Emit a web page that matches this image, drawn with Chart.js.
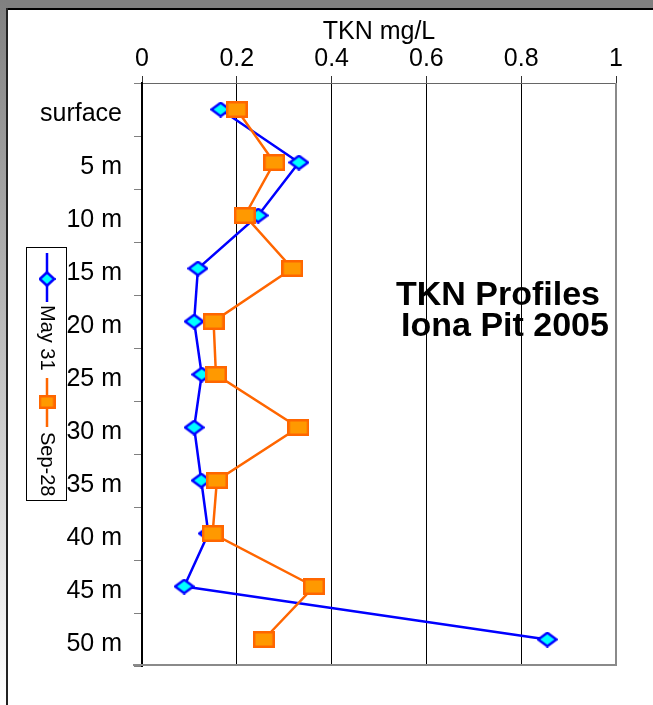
<!DOCTYPE html>
<html><head><meta charset="utf-8">
<script src="https://cdn.jsdelivr.net/npm/chart.js@4/dist/chart.umd.min.js"></script>
<style>
html,body{margin:0;padding:0;background:#fff;}
body{width:653px;height:705px;overflow:hidden;position:relative;}
#ft{position:absolute;left:0;top:0;width:653px;height:8px;background:#808080;}
#fl{position:absolute;left:0;top:0;width:6px;height:705px;background:linear-gradient(#808080,#ffffff);}
#ftl{position:absolute;left:6px;top:8px;width:647px;height:2px;background:#000;}
#fll{position:absolute;left:6px;top:8px;width:2px;height:697px;background:#222;}
canvas{position:absolute;left:0;top:0;}
</style></head>
<body>
<div id="ft"></div><div id="fl"></div><div id="ftl"></div><div id="fll"></div>
<canvas id="c" width="653" height="705"></canvas>
<script>
const categories = ['surface','5 m','10 m','15 m','20 m','25 m','30 m','35 m','40 m','45 m','50 m'];
const may31 = [0.166,0.331,0.245,0.118,0.110,0.126,0.110,0.125,0.140,0.089,0.855];
const sep28 = [0.200,0.279,0.217,0.317,0.151,0.156,0.330,0.158,0.149,0.363,0.257];
const xTickValues = [0,0.2,0.4,0.6,0.8,1];
const seriesNames = ['May 31','Sep-28'];
const chartTitle = ['TKN Profiles','Iona Pit 2005'];
const axisTitle = 'TKN mg/L';

const FONT = '"Liberation Sans", Arial, sans-serif';

function makeDiamond(w,h){
  const c=document.createElement('canvas'); c.width=w; c.height=h;
  const g=c.getContext('2d');
  g.beginPath(); g.moveTo(w/2,1.3); g.lineTo(w-1.3,h/2); g.lineTo(w/2,h-1.3); g.lineTo(1.3,h/2); g.closePath();
  g.fillStyle='#00FFFF'; g.fill(); g.lineWidth=2.5; g.strokeStyle='#0000FF'; g.stroke();
  return c;
}
function makeSquare(w,h){
  const c=document.createElement('canvas'); c.width=w; c.height=h;
  const g=c.getContext('2d');
  g.fillStyle='#FF9900'; g.fillRect(0,0,w,h);
  g.lineWidth=2.5; g.strokeStyle='#FF6600'; g.strokeRect(1.25,1.25,w-2.5,h-2.5);
  return c;
}
const diamondImg = makeDiamond(21,16);
const squareImg = makeSquare(22,17);
const diamondLeg = makeDiamond(17,16);
const squareLeg = makeSquare(17,14);

const framePlugin = {
  id:'frame',
  afterDraw(chart){
    const ctx=chart.ctx, a=chart.chartArea;
    ctx.save();
    ctx.strokeStyle='#8a8a8a'; ctx.lineWidth=2;
    ctx.beginPath(); ctx.moveTo(133,a.bottom-1); ctx.lineTo(a.right+1,a.bottom-1); ctx.stroke();
    ctx.beginPath(); ctx.moveTo(a.right,a.top); ctx.lineTo(a.right,a.bottom); ctx.stroke();
    // title
    ctx.fillStyle='#000'; ctx.font='bold 34px '+FONT; ctx.textAlign='center'; ctx.textBaseline='alphabetic';
    ctx.fillText(chartTitle[0],498,305);
    ctx.fillText(chartTitle[1],505,336);
    // legend
    ctx.strokeStyle='#000'; ctx.lineWidth=1;
    ctx.strokeRect(26.5,247.5,40,253);
    const cx=47;
    ctx.lineWidth=2.5;
    ctx.strokeStyle='#0000FF'; ctx.beginPath(); ctx.moveTo(cx,253); ctx.lineTo(cx,302); ctx.stroke();
    ctx.drawImage(diamondLeg,cx-diamondLeg.width/2,279-diamondLeg.height/2);
    ctx.strokeStyle='#FF6600'; ctx.beginPath(); ctx.moveTo(cx,378); ctx.lineTo(cx,427); ctx.stroke();
    ctx.drawImage(squareLeg,cx-squareLeg.width/2,402-squareLeg.height/2);
    ctx.font='20px '+FONT; ctx.textAlign='left'; ctx.textBaseline='middle'; ctx.fillStyle='#000';
    ctx.save(); ctx.translate(cx,305); ctx.rotate(Math.PI/2); ctx.fillText(seriesNames[0],0,0); ctx.restore();
    ctx.save(); ctx.translate(cx,432); ctx.rotate(Math.PI/2); ctx.fillText(seriesNames[1],0,0); ctx.restore();
    ctx.restore();
  }
};

new Chart(document.getElementById('c'),{
  type:'line',
  data:{
    labels:categories,
    datasets:[
      {label:seriesNames[1],data:sep28,borderColor:'#FF6600',backgroundColor:'#FF9900',borderWidth:2.5,
       pointStyle:squareImg,pointRadius:8,tension:0,fill:false,order:0},
      {label:seriesNames[0],data:may31,borderColor:'#0000FF',backgroundColor:'#00FFFF',borderWidth:2.5,
       pointStyle:diamondImg,pointRadius:8,tension:0,fill:false,order:1}
    ]
  },
  options:{
    indexAxis:'y',
    responsive:false,
    animation:false,
    layout:{padding:{left:0,top:0,right:37,bottom:39}},
    plugins:{legend:{display:false},tooltip:{enabled:false},title:{display:false}},
    scales:{
      x:{
        type:'linear',position:'top',min:0,max:1,
        afterBuildTicks:(s)=>{s.ticks=xTickValues.map(v=>({value:v}));},
        ticks:{color:'#000',font:{size:25,family:FONT},padding:2,maxRotation:0,
               callback:(v)=>String(Math.round(v*10)/10)},
        grid:{color:(c)=>(c.tick&&(c.tick.value===0||c.tick.value===1))?'rgba(0,0,0,0)':'#000',
              lineWidth:1,tickLength:7,tickColor:'#333',drawTicks:true},
        border:{display:true,color:'#666',width:1},
        title:{display:true,text:axisTitle,color:'#000',font:{size:25,family:FONT},padding:{top:17,bottom:0}},
        afterFit:(s)=>{s.height=83;}
      },
      y:{
        type:'category',position:'left',offset:true,
        grid:{offset:true,drawOnChartArea:false,tickLength:8,tickColor:'#808080',color:'#808080'},
        border:{display:true,color:'#000',width:2},
        ticks:{color:'#000',font:{size:25,family:FONT},padding:12,labelOffset:5},
        afterFit:(s)=>{s.width=142;}
      }
    }
  },
  plugins:[framePlugin]
});
</script>
</body></html>
